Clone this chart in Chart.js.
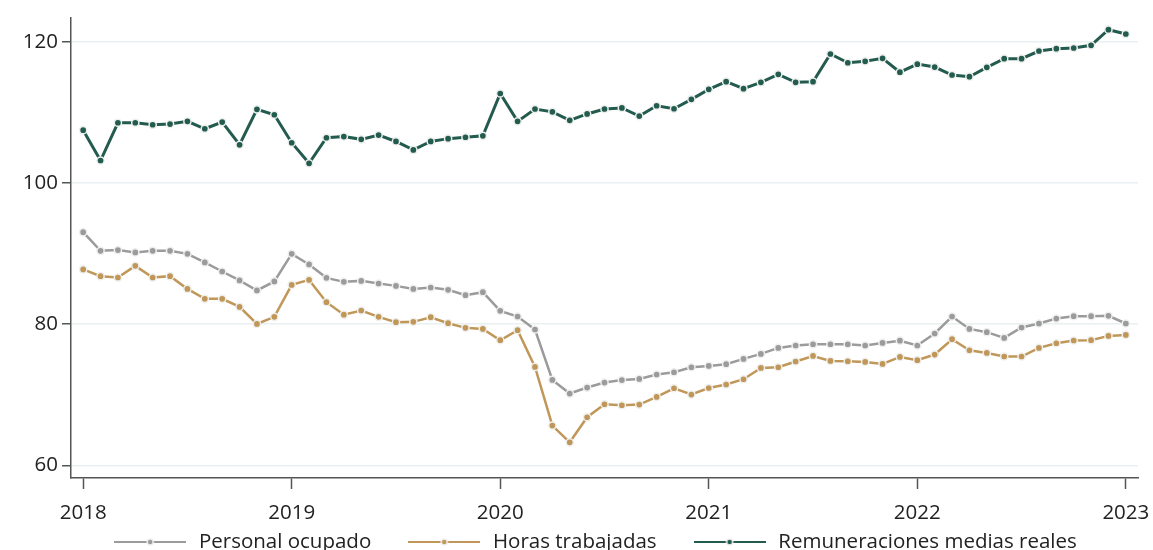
<!DOCTYPE html>
<html>
<head>
<meta charset="utf-8">
<script src="https://cdn.jsdelivr.net/npm/chart.js@4.4.1/dist/chart.umd.min.js"></script>
<style>
html,body{margin:0;padding:0;background:#fff;overflow:hidden;}
#wrap{position:relative;width:1153px;height:591px;}
</style>
</head>
<body>
<div id="wrap"><canvas id="c"></canvas></div>
<script>
const yearLabels = ['2018','2019','2020','2021','2022','2023'];
const seriesNames = ['Personal ocupado','Horas trabajadas','Remuneraciones medias reales'];
const personalOcupado = [93.05,90.4,90.5,90.17,90.4,90.4,89.97,88.75,87.47,86.2,84.78,86.06,89.97,88.47,86.57,86.0,86.14,85.77,85.43,85.0,85.2,84.87,84.11,84.54,81.89,81.09,79.25,72.1,70.17,71.02,71.73,72.08,72.24,72.87,73.19,73.9,74.09,74.33,75.08,75.79,76.64,76.98,77.16,77.16,77.16,76.98,77.35,77.66,76.98,78.68,81.09,79.33,78.87,78.06,79.53,80.1,80.8,81.13,81.13,81.18,80.1];
const horasTrabajadas = [87.76,86.81,86.62,88.27,86.62,86.81,85.0,83.59,83.59,82.45,80.04,81.04,85.57,86.28,83.12,81.35,81.94,81.04,80.28,80.33,80.99,80.14,79.48,79.33,77.73,79.15,73.94,65.63,63.26,66.81,68.65,68.51,68.61,69.69,70.92,70.03,70.96,71.45,72.2,73.8,73.9,74.71,75.5,74.79,74.75,74.65,74.37,75.36,74.9,75.7,77.87,76.31,75.93,75.42,75.42,76.64,77.3,77.69,77.73,78.34,78.48];
const remuneraciones = [107.5,103.2,108.55,108.55,108.27,108.37,108.75,107.7,108.65,105.43,110.45,109.69,105.72,102.8,106.43,106.6,106.2,106.8,105.9,104.7,105.9,106.3,106.5,106.7,112.7,108.75,110.5,110.1,108.9,109.8,110.5,110.65,109.5,110.96,110.54,111.87,113.29,114.37,113.38,114.28,115.42,114.28,114.37,118.3,117.06,117.26,117.69,115.72,116.86,116.45,115.32,115.08,116.41,117.63,117.63,118.72,119.05,119.15,119.53,121.74,121.13];
const yTicks = [60,80,100,120];

const colors = ['#9b9b9b','#c09758','#235b4e'];
const lineWidths = [2.5,2.5,3];
const FONT = '"Open Sans", sans-serif';
const FS = 20.5;

function legendIcon(color){
  const c = document.createElement('canvas');
  c.width = 72; c.height = 12;
  const g = c.getContext('2d');
  g.strokeStyle = color; g.lineWidth = 2.2;
  g.beginPath(); g.moveTo(0,6); g.lineTo(72,6); g.stroke();
  g.beginPath(); g.arc(36,6,3,0,Math.PI*2);
  g.fillStyle = color; g.fill();
  g.lineWidth = 1.5; g.strokeStyle = '#eef0ee'; g.stroke();
  return c;
}
const icons = colors.map(c=>legendIcon(c));

function toPts(arr){ return arr.map((v,i)=>({x:i,y:v})); }
const allSeries = [personalOcupado, horasTrabajadas, remuneraciones];

const datasets = allSeries.map((arr,i)=>({
  label: seriesNames[i],
  data: toPts(arr),
  borderColor: colors[i],
  backgroundColor: colors[i],
  borderWidth: lineWidths[i],
  pointRadius: 3.6,
  pointBorderWidth: 1.5,
  pointBorderColor: '#eef0ee',
  pointBackgroundColor: colors[i],
  tension: 0
}));

const legendShift = {
  id: 'legendShift',
  afterLayout(chart){
    const lg = chart.legend;
    if (!lg) return;
    const dy = -28.75, dx = 22.75;
    lg.top += dy; lg.bottom += dy;
    lg.left += dx; lg.right += dx;
  }
};

new Chart(document.getElementById('c'), {
  type: 'line',
  data: { datasets },
  plugins: [legendShift],
  options: {
    responsive: true,
    maintainAspectRatio: false,
    animation: false,
    layout: { padding: { top: 18, left: 5, right: 15, bottom: 0 } },
    plugins: {
      tooltip: { enabled: false },
      legend: {
        position: 'bottom',
        labels: {
          usePointStyle: true,
          pointStyleWidth: 77,
          padding: 34.5,
          color: '#222',
          font: { family: FONT, size: FS },
          generateLabels(chart){
            const items = Chart.defaults.plugins.legend.labels.generateLabels(chart);
            items.forEach((it,i)=>{ it.pointStyle = icons[i]; });
            return items;
          }
        }
      }
    },
    scales: {
      x: {
        type: 'linear',
        min: -0.7,
        max: 60.7,
        afterBuildTicks(scale){ scale.ticks = yearLabels.map((_,i)=>({value:i*12})); },
        afterFit(scale){ scale.height = 48; scale.paddingRight = 0; scale.paddingLeft = 0; },
        ticks: {
          color: '#222',
          font: { family: FONT, size: FS },
          padding: 12,
          maxRotation: 0,
          callback: (v)=> yearLabels[Math.round(v/12)]
        },
        grid: { drawOnChartArea: false, drawTicks: true, tickLength: 11, tickColor: '#555', tickWidth: 1.5 },
        border: { display: true, color: '#555', width: 1.5 }
      },
      y: {
        min: 58.2,
        max: 123.4,
        afterBuildTicks(scale){ scale.ticks = yTicks.map(v=>({value:v})); },
        afterFit(scale){ scale.width = 66; },
        ticks: {
          color: '#222',
          font: { family: FONT, size: FS },
          padding: 4
        },
        grid: { color: '#e9f0f1', lineWidth: 1.5, drawTicks: true, tickLength: 9, tickColor: '#555', tickWidth: 1.5 },
        border: { display: true, color: '#555', width: 1.5 }
      }
    }
  }
});
</script>
</body>
</html>
